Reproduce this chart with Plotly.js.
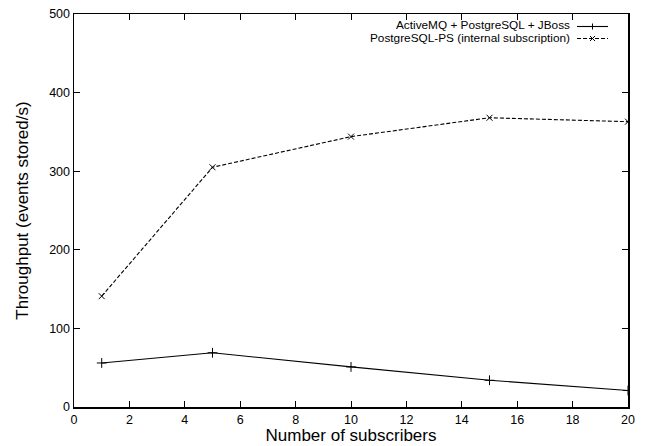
<!DOCTYPE html>
<html>
<head>
<meta charset="utf-8">
<script src="https://cdn.plot.ly/plotly-3.0.1.min.js"></script>
<style>html,body{margin:0;padding:0;background:#fff;}#chart{width:652px;height:446px;}</style>
</head>
<body>
<div id="chart"></div>
<script>
const subscribers = [1, 5, 10, 15, 20];
const activemqValues = [56, 69, 51, 34, 21];
const psValues = [141, 305, 344, 368, 363];
const seriesNames = ["ActiveMQ + PostgreSQL + JBoss", "PostgreSQL-PS (internal subscription)"];
const xTicks = [0, 2, 4, 6, 8, 10, 12, 14, 16, 18, 20];
const yTicks = [0, 100, 200, 300, 400, 500];

const font = "Liberation Sans, Arial, Helvetica, sans-serif";

const traces = [
  {x: subscribers, y: activemqValues, name: seriesNames[0], mode: "lines+markers",
   line: {color: "#000", width: 1.1, dash: "solid"},
   marker: {symbol: "cross-thin-open", size: 7, color: "#000", line: {color: "#000", width: 1}},
   showlegend: false},
  {x: subscribers, y: psValues, name: seriesNames[1], mode: "lines+markers",
   line: {color: "#000", width: 1.1, dash: "4px,2px"},
   marker: {symbol: "x-thin-open", size: 6, color: "#000", line: {color: "#000", width: 1}},
   showlegend: false}
];

// legend drawn in gnuplot style (text right, sample on right) in paper coordinates
const W = 652, H = 446, L = 74, R = 24, T = 14, B = 39;
const pw = W - L - R, ph = H - T - B;
const px = v => (v - L) / pw;
const py = v => 1 - (v - T) / ph;
const rows = [25.5, 38.5];
const annotations = seriesNames.map((n, i) => ({
  xref: "paper", yref: "paper", x: px(572), y: py(rows[i]), xanchor: "right", yanchor: "middle",
  text: n, showarrow: false, font: {family: font, size: 11.8, color: "#000"}
}));
const shapes = [
  {type: "line", xref: "paper", yref: "paper", x0: px(577), x1: px(608), y0: py(rows[0] + 1), y1: py(rows[0] + 1), line: {color: "#000", width: 1.1}},
  {type: "line", xref: "paper", yref: "paper", x0: px(592.5), x1: px(592.5), y0: py(rows[0] - 2), y1: py(rows[0] + 4), line: {color: "#000", width: 1}},
  {type: "line", xref: "paper", yref: "paper", x0: px(577), x1: px(608), y0: py(rows[1]), y1: py(rows[1]), line: {color: "#000", width: 1.1, dash: "4px,2px"}},
  {type: "line", xref: "paper", yref: "paper", x0: px(590), x1: px(595), y0: py(rows[1] - 2.5), y1: py(rows[1] + 2.5), line: {color: "#000", width: 1}},
  {type: "line", xref: "paper", yref: "paper", x0: px(590), x1: px(595), y0: py(rows[1] + 2.5), y1: py(rows[1] - 2.5), line: {color: "#000", width: 1}}
];

const layout = {
  width: W, height: H,
  margin: {l: L, r: R, t: T, b: B, pad: 0},
  paper_bgcolor: "#fff", plot_bgcolor: "#fff",
  font: {family: font, color: "#000"},
  showlegend: false,
  xaxis: {
    range: [0, 20], tickvals: xTicks, ticktext: xTicks.map(String),
    ticks: "inside", ticklen: 6, tickwidth: 1, tickcolor: "#000",
    showline: true, linecolor: "#000", linewidth: 1.5, mirror: "ticks",
    showgrid: false, zeroline: false,
    tickfont: {family: font, size: 12.5, color: "#000"},
    title: {text: "Number of subscribers", font: {family: font, size: 17, color: "#000"}, standoff: 0}
  },
  yaxis: {
    range: [0, 500], tickvals: yTicks, ticktext: yTicks.map(String),
    ticks: "inside", ticklen: 6, tickwidth: 1, tickcolor: "#000",
    showline: true, linecolor: "#000", linewidth: 1.5, mirror: "ticks",
    showgrid: false, zeroline: false,
    tickfont: {family: font, size: 12.5, color: "#000"},
    title: {text: "Throughput (events stored/s)", font: {family: font, size: 17, color: "#000"}, standoff: 16}
  },
  annotations: annotations,
  shapes: shapes
};

Plotly.newPlot("chart", traces, layout, {displayModeBar: false, staticPlot: true});
</script>
</body>
</html>
